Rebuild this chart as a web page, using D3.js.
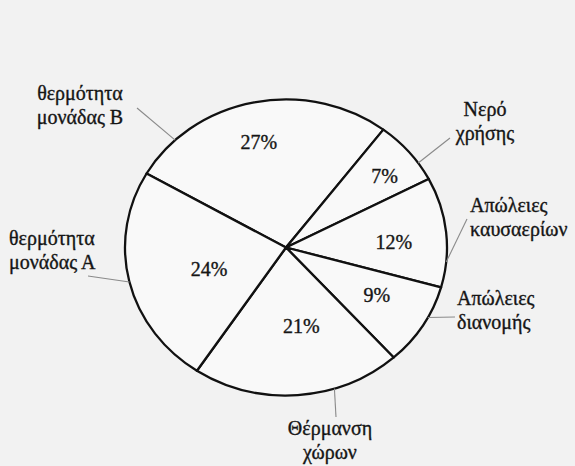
<!DOCTYPE html>
<html>
<head>
<meta charset="utf-8">
<script src="https://cdn.jsdelivr.net/npm/d3@7"></script>
<style>
  html, body { margin: 0; padding: 0; background: #f2f2f2; }
  svg { display: block; }
  text { font-family: "Liberation Serif", serif; fill: #151515; stroke: #151515; stroke-width: 0.35px; }
</style>
</head>
<body>
<svg id="chart" width="575" height="466"></svg>
<script>
// Heat balance shares (per cent)
const categories = ["θερμότητα μονάδας Β", "Νερό χρήσης", "Απώλειες καυσαερίων",
                    "Απώλειες διανομής", "Θέρμανση χώρων", "θερμότητα μονάδας Α"];
const values = [27, 7, 12, 9, 21, 24];
const percentLabels = ["27%", "7%", "12%", "9%", "21%", "24%"];
const categoryLines = [["θερμότητα", "μονάδας Β"], ["Νερό", "χρήσης"], ["Απώλειες", "καυσαερίων"],
                       ["Απώλειες", "διανομής"], ["Θέρμανση", "χώρων"], ["θερμότητα", "μονάδας Α"]];

// Layout: the pie is drawn slightly wider than tall
const cx = 286, cy = 247.5, rx = 161, ry = 148;
const deg = Math.PI / 180;
const startAngle = -60 * deg;

// radius fraction and angular nudge for each percentage label
const pctLayout = [
  { f: 0.73, da: -2 }, { f: 0.78, da: 2 }, { f: 0.67, da: 3 },
  { f: 0.65, da: -2 }, { f: 0.54, da: -6 }, { f: 0.50, da: -4 }
];
// outer labels: anchor point, alignment, leader line
const outerLayout = [
  { x: 80,  y: 100, anchor: "middle", leadFrom: [137, 108], leadAngle: -43.5 },
  { x: 485, y: 116, anchor: "middle", leadFrom: [450, 138], leadAngle: 55.2 },
  { x: 470, y: 212, anchor: "start",  leadFrom: [467, 219], leadAngle: 95.6 },
  { x: 457, y: 305, anchor: "start",  leadFrom: [455, 317], leadAngle: 118.2 },
  { x: 330, y: 435, anchor: "middle", leadFrom: [336, 417], leadAngle: 162.5 },
  { x: 9,   y: 245, anchor: "start",  leadFrom: [88, 276],  leadAngle: 256.5 }
];
const lineGap = 24;

const svg = d3.select("#chart");

const pie = d3.pie().sort(null).startAngle(startAngle).endAngle(startAngle + 2 * Math.PI);
const arcs = pie(values);
const arc = d3.arc().innerRadius(0).outerRadius(rx);

const onEllipse = (a, f = 1) => [cx + f * rx * Math.sin(a), cy - f * ry * Math.cos(a)];

// slices
svg.append("g")
  .attr("transform", `translate(${cx},${cy}) scale(1,${ry / rx})`)
  .selectAll("path")
  .data(arcs)
  .join("path")
  .attr("d", arc)
  .attr("fill", "#f9f9f9")
  .attr("stroke", "#111")
  .attr("stroke-width", 2.3)
  .attr("stroke-linejoin", "round")
  .attr("vector-effect", "non-scaling-stroke");

// percentage labels inside slices
svg.append("g")
  .selectAll("text")
  .data(arcs)
  .join("text")
  .attr("x", (d, i) => onEllipse((d.startAngle + d.endAngle) / 2 + pctLayout[i].da * deg, pctLayout[i].f)[0])
  .attr("y", (d, i) => onEllipse((d.startAngle + d.endAngle) / 2 + pctLayout[i].da * deg, pctLayout[i].f)[1])
  .attr("text-anchor", "middle")
  .attr("dominant-baseline", "central")
  .attr("font-size", 20)
  .text((d, i) => percentLabels[i]);

// leader lines
svg.append("g")
  .selectAll("line")
  .data(outerLayout)
  .join("line")
  .attr("x1", d => d.leadFrom[0])
  .attr("y1", d => d.leadFrom[1])
  .attr("x2", d => onEllipse(d.leadAngle * deg)[0])
  .attr("y2", d => onEllipse(d.leadAngle * deg)[1])
  .attr("stroke", "#8a8a8a")
  .attr("stroke-width", 1.1);

// category labels
const outer = svg.append("g")
  .selectAll("text")
  .data(categories)
  .join("text")
  .attr("x", (d, i) => outerLayout[i].x)
  .attr("y", (d, i) => outerLayout[i].y)
  .attr("text-anchor", (d, i) => outerLayout[i].anchor)
  .attr("font-size", 20);

outer.selectAll("tspan")
  .data((d, i) => categoryLines[i].map(t => ({ t, x: outerLayout[i].x })))
  .join("tspan")
  .attr("x", d => d.x)
  .attr("dy", (d, j) => j === 0 ? 0 : lineGap)
  .text(d => d.t);
</script>
</body>
</html>
